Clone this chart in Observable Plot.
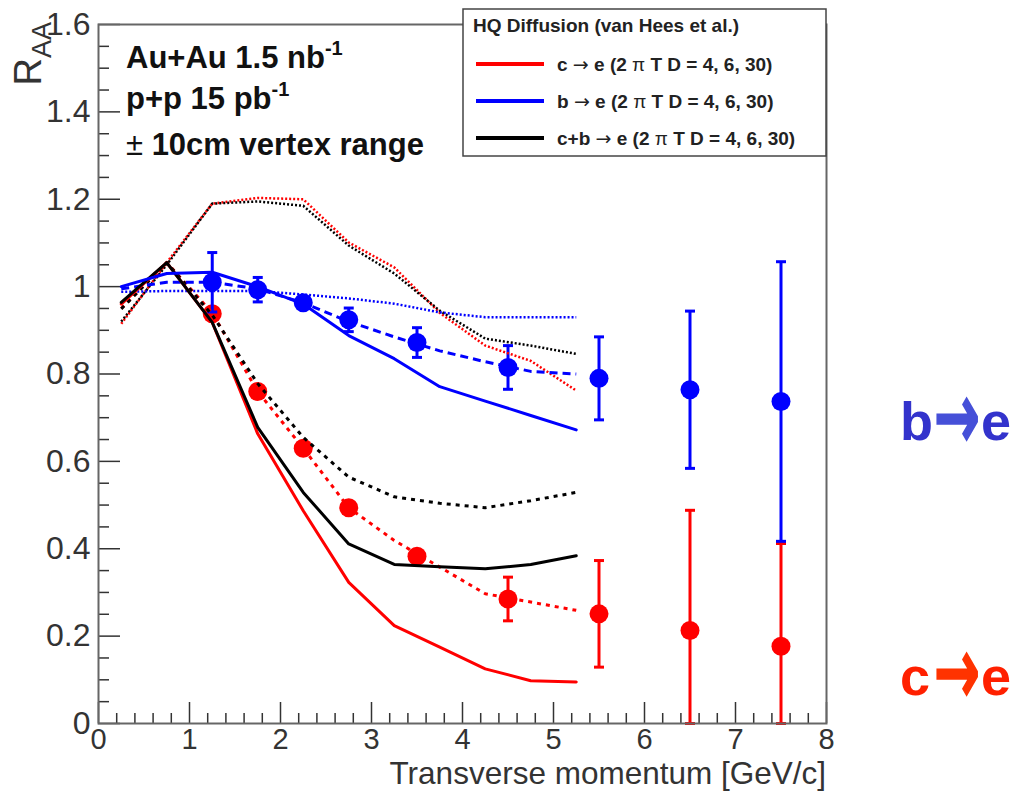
<!DOCTYPE html>
<html>
<head>
<meta charset="utf-8">
<script src="https://cdn.jsdelivr.net/npm/d3@7"></script>
<script src="https://cdn.jsdelivr.net/npm/@observablehq/plot@0.6"></script>
<style>
  body { margin: 0; background: #fff; }
  #wrap { position: relative; width: 1014px; height: 791px; font-family: "Liberation Sans", Arial, sans-serif; }
  #wrap svg.overlay { position: absolute; left: 0; top: 0; pointer-events: none; }
</style>
</head>
<body>
<div id="wrap"></div>
<script>
// pT bin centres of the HQ diffusion calculations
const ptBins = [0.25, 0.75, 1.25, 1.75, 2.25, 2.75, 3.25, 3.75, 4.25, 4.75, 5.25];

// c -> e, 2πTD = 4, 6, 30
const cTD4  = [0.96, 1.055, 0.918, 0.663, 0.487, 0.323, 0.224, 0.175, 0.125, 0.098, 0.095];
const cTD6  = [0.95, 1.055, 0.94, 0.76, 0.63, 0.494, 0.419, 0.358, 0.297, 0.278, 0.259];
const cTD30 = [0.915, 1.055, 1.19, 1.203, 1.2, 1.101, 1.044, 0.94, 0.865, 0.83, 0.762];
// b -> e
const bTD4  = [1.0, 1.03, 1.033, 1.0, 0.96, 0.888, 0.835, 0.771, 0.738, 0.705, 0.672];
const bTD6  = [0.995, 1.01, 1.01, 0.995, 0.963, 0.92, 0.885, 0.853, 0.828, 0.806, 0.8];
const bTD30 = [0.988, 0.99, 0.99, 0.99, 0.982, 0.973, 0.961, 0.941, 0.93, 0.93, 0.93];
// c+b -> e
const cbTD4  = [0.964, 1.055, 0.918, 0.678, 0.529, 0.411, 0.364, 0.359, 0.354, 0.364, 0.384];
const cbTD6  = [0.949, 1.055, 0.935, 0.778, 0.655, 0.564, 0.519, 0.504, 0.494, 0.51, 0.529];
const cbTD30 = [0.92, 1.05, 1.19, 1.195, 1.185, 1.094, 1.03, 0.945, 0.881, 0.865, 0.846];

// projected measurement points (pT, RAA, stat. error)
const measPt = [1.25, 1.75, 2.25, 2.75, 3.5, 4.5, 5.5, 6.5, 7.5];
const bRaa = [1.01, 0.993, 0.963, 0.924, 0.872, 0.815, 0.79, 0.764, 0.737];
const bErr = [0.068, 0.028, 0.012, 0.027, 0.034, 0.05, 0.095, 0.18, 0.32];
const cRaa = [0.938, 0.76, 0.63, 0.494, 0.383, 0.285, 0.251, 0.213, 0.177];
const cErr = [0.01, 0.01, 0.01, 0.01, 0.01, 0.05, 0.122, 0.275, 0.235];

// axis ticks
const xTicks = [0, 1, 2, 3, 4, 5, 6, 7, 8];
const xMinor = d3.range(0, 41).map(i => i / 5).filter(v => !Number.isInteger(v));
const yTicks = [0, 0.2, 0.4, 0.6, 0.8, 1, 1.2, 1.4, 1.6];
const yMinor = d3.range(0, 33).map(i => i / 20).filter((v, i) => i % 4 !== 0);

const RED = "#ff0000", BLUE = "#0000ff", BLACK = "#000000";

const W = 1014, H = 791;
const mL = 98, mR = 188, mT = 24, mB = 68;
const plotW = W - mL - mR, plotH = H - mT - mB;

const toRows = vals => ptBins.map((x, i) => ({x, y: vals[i]}));
const meas = (raa, err) => measPt.map((x, i) => ({
  x, y: raa[i], lo: Math.max(0, raa[i] - err[i]), hi: raa[i] + err[i]
}));
const caps = rows => rows.flatMap(d => [{x: d.x, y: d.lo}, {x: d.x, y: d.hi}]);

// short horizontal bar used for error-bar end caps
const capSymbol = {
  draw(ctx, size) {
    const h = Math.sqrt(size / Math.PI);
    ctx.moveTo(-h, 0);
    ctx.lineTo(h, 0);
  }
};

const cMeas = meas(cRaa, cErr);
const bMeas = meas(bRaa, bErr);

const styles = {
  solid: {strokeWidth: 3},
  dashedB: {strokeWidth: 3, strokeDasharray: "8,5", strokeLinecap: "butt"},
  dashed: {strokeWidth: 3, strokeDasharray: "4,5", strokeLinecap: "butt"},
  dotted: {strokeWidth: 2.5, strokeDasharray: "2,2", strokeLinecap: "butt"}
};

const plot = Plot.plot({
  width: W, height: H,
  marginLeft: mL, marginRight: mR, marginTop: mT, marginBottom: mB,
  x: {domain: [0, 8]},
  y: {domain: [0, 1.6]},
  style: {fontFamily: '"Liberation Sans", Arial, sans-serif', background: "white", overflow: "visible"},
  marks: [
    // inward ticks on the left and bottom edges
    Plot.tickY(yMinor, {y: d => d, insetRight: plotW - 11, stroke: "#333", strokeWidth: 1.5}),
    Plot.tickY(yTicks, {y: d => d, insetRight: plotW - 22, stroke: "#333", strokeWidth: 1.5}),
    Plot.tickX(xMinor, {x: d => d, insetTop: plotH - 10, stroke: "#333", strokeWidth: 1.5}),
    Plot.tickX(xTicks, {x: d => d, insetTop: plotH - 21, stroke: "#333", strokeWidth: 1.5}),
    Plot.axisY({ticks: yTicks, tickSize: 0, tickPadding: 8, fontSize: 32, color: "#333",
                tickFormat: d => String(d), label: null}),
    Plot.axisX({ticks: xTicks, tickSize: 0, tickPadding: 5, fontSize: 29, color: "#333",
                tickFormat: d => String(d), label: null}),

    // measurements: c->e (red) then b->e (blue)
    Plot.ruleX(cMeas, {x: "x", y1: "lo", y2: "hi", stroke: RED, strokeWidth: 3}),
    Plot.dot(caps(cMeas), {x: "x", y: "y", symbol: capSymbol, r: 5, stroke: RED, strokeWidth: 3, fill: "none"}),
    Plot.dot(cMeas, {x: "x", y: "y", r: 9.5, fill: RED}),
    Plot.ruleX(bMeas, {x: "x", y1: "lo", y2: "hi", stroke: BLUE, strokeWidth: 3}),
    Plot.dot(caps(bMeas), {x: "x", y: "y", symbol: capSymbol, r: 5, stroke: BLUE, strokeWidth: 3, fill: "none"}),
    Plot.dot(bMeas, {x: "x", y: "y", r: 9.5, fill: BLUE}),

    // HQ diffusion curves
    Plot.line(toRows(cTD30), {x: "x", y: "y", stroke: RED, ...styles.dotted}),
    Plot.line(toRows(cbTD30), {x: "x", y: "y", stroke: BLACK, ...styles.dotted}),
    Plot.line(toRows(bTD30), {x: "x", y: "y", stroke: BLUE, ...styles.dotted}),
    Plot.line(toRows(cTD6), {x: "x", y: "y", stroke: RED, ...styles.dashed}),
    Plot.line(toRows(cbTD6), {x: "x", y: "y", stroke: BLACK, ...styles.dashed}),
    Plot.line(toRows(bTD6), {x: "x", y: "y", stroke: BLUE, ...styles.dashedB}),
    Plot.line(toRows(cTD4), {x: "x", y: "y", stroke: RED, ...styles.solid}),
    Plot.line(toRows(cbTD4), {x: "x", y: "y", stroke: BLACK, ...styles.solid}),
    Plot.line(toRows(bTD4), {x: "x", y: "y", stroke: BLUE, ...styles.solid}),

    Plot.frame({stroke: "#666", strokeWidth: 2})
  ]
});

const wrap = document.getElementById("wrap");
wrap.appendChild(plot);

// annotations: axis titles, run conditions, legend, channel labels
const legendRows = [
  {label: "c", color: RED},
  {label: "b", color: BLUE},
  {label: "c+b", color: BLACK}
];
const ns = "http://www.w3.org/2000/svg";
const ov = document.createElementNS(ns, "svg");
ov.setAttribute("class", "overlay");
ov.setAttribute("width", W);
ov.setAttribute("height", H);
ov.setAttribute("font-family", '"Liberation Sans", Arial, sans-serif');

let html = "";
// y title
html += `<text transform="translate(41,22) rotate(-90)" text-anchor="end" font-size="38" fill="#333">R<tspan font-size="27" dy="10">AA</tspan></text>`;
// x title
html += `<text x="826" y="784" text-anchor="end" font-size="31.5" fill="#333">Transverse momentum [GeV/c]</text>`;
// run conditions
html += `<g font-size="31" font-weight="bold" fill="#111">
  <text x="126" y="68">Au+Au 1.5 nb<tspan font-size="20" dy="-13">-1</tspan></text>
  <text x="126" y="109">p+p 15 pb<tspan font-size="20" dy="-13">-1</tspan></text>
  <text x="126" y="155"><tspan font-weight="normal">±</tspan> 10cm vertex range</text>
</g>`;
// legend box
html += `<rect x="463" y="9" width="363" height="147" fill="white" stroke="#444" stroke-width="1.5"/>`;
html += `<text x="473" y="32" font-size="19" font-weight="bold" fill="#222">HQ Diffusion (van Hees et al.)</text>`;
legendRows.forEach((r, i) => {
  const y = 64 + i * 37;
  html += `<line x1="476" x2="544" y1="${y}" y2="${y}" stroke="${r.color}" stroke-width="4"/>`;
  html += `<text x="557" y="${y + 7}" font-size="19" font-weight="bold" fill="#222">${r.label} <tspan font-family="DejaVu Sans" font-weight="normal">→</tspan> e (2 <tspan font-weight="normal">π</tspan> T D = 4, 6, 30)</text>`;
});
// channel labels
const channel = (letter, y, color, arrowColor) => `
  <text x="900" y="${y}" font-size="54" font-weight="bold" fill="${color}">${letter}</text>
  <text transform="translate(957,${y - 21}) scale(1,1.75)" y="17" text-anchor="middle"
        font-family="DejaVu Sans" font-size="54"
        fill="${arrowColor}" stroke="${arrowColor}" stroke-width="2" stroke-linejoin="miter">→</text>
  <text x="981" y="${y}" font-size="54" font-weight="bold" fill="${color}">e</text>`;
html += channel("b", 440, "#3333cc", "#4650d8");
html += channel("c", 695, "#ff2000", "#ff3300");
ov.innerHTML = html;
wrap.appendChild(ov);
</script>
</body>
</html>
